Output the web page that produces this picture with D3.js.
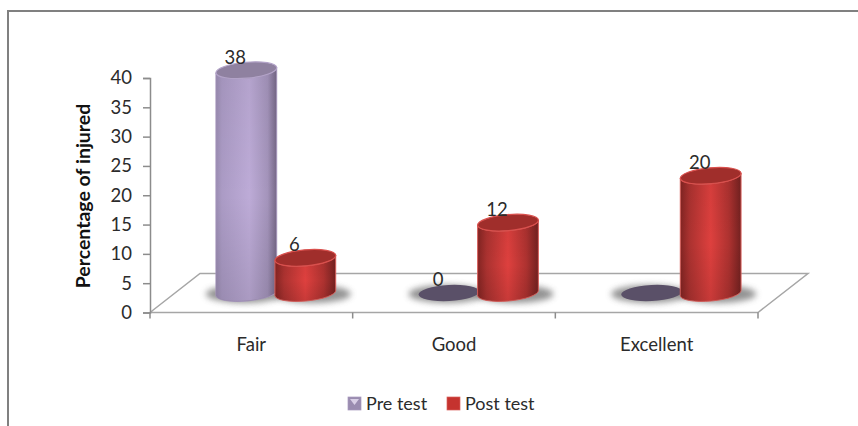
<!DOCTYPE html>
<html>
<head>
<meta charset="utf-8">
<script src="https://cdnjs.cloudflare.com/ajax/libs/d3/7.8.5/d3.min.js"></script>
<style>
html, body { margin: 0; padding: 0; background: #fff; overflow: hidden; }
text { font-family: Lato, "Open Sans", sans-serif; fill: #2b2b2b; }
</style>
</head>
<body>
<svg id="chart" width="858" height="426"></svg>
<script>
var categories = ["Fair", "Good", "Excellent"];
var seriesNames = ["Pre test", "Post test"];
var preTest = [38, 0, 0];
var postTest = [6, 12, 20];
var preLabels = ["38", "0", ""];
var postLabels = ["6", "12", "20"];
var yTicks = [0, 5, 10, 15, 20, 25, 30, 35, 40];

var svg = d3.select("#chart");
var defs = svg.append("defs");

var plotLeft = 150, plotRight = 758, plotBottom = 312.5, plotTop = 78;
var depthX = 50, depthY = 39;
var midX = depthX / 2, midY = 19.5; // bars stand halfway back on the floor
var rx = 30.5, ry = 8, tilt = -5;

var x0 = d3.scaleBand().domain(categories).range([plotLeft, plotRight]);
var x1 = d3.scalePoint().domain(seriesNames).range([-30, 29]);
var y = d3.scaleLinear().domain([0, 40]).range([plotBottom, plotTop]);

function gradient(id, stops) {
    var g = defs.append("linearGradient").attr("id", id);
    stops.forEach(function (s) {
        g.append("stop").attr("offset", s[0]).attr("stop-color", s[1]);
    });
}
gradient("preBody", [[0, "#9b8db2"], [0.1, "#ab9bc5"], [0.55, "#bdabd7"], [0.85, "#a494bb"], [1, "#766887"]]);
gradient("postBody", [[0, "#822422"], [0.15, "#ab3230"], [0.5, "#de403e"], [0.8, "#ae3230"], [1, "#732120"]]);

defs.append("filter").attr("id", "blur")
    .attr("x", "-30%").attr("y", "-80%").attr("width", "160%").attr("height", "260%")
    .append("feGaussianBlur").attr("stdDeviation", 3);

var shade = defs.append("linearGradient").attr("id", "shade")
    .attr("x1", 0).attr("y1", 0).attr("x2", 0).attr("y2", 1);
shade.append("stop").attr("offset", 0).attr("stop-color", "#000").attr("stop-opacity", 0.05);
shade.append("stop").attr("offset", 0.55).attr("stop-color", "#000").attr("stop-opacity", 0);
shade.append("stop").attr("offset", 1).attr("stop-color", "#000").attr("stop-opacity", 0.1);

// outer frame, cropped on the right and bottom
svg.append("path")
    .attr("d", "M8,426V11H858")
    .attr("fill", "none")
    .attr("stroke", "#808080")
    .attr("stroke-width", 2);

// floor
svg.append("path")
    .attr("d", "M" + plotLeft + "," + plotBottom + "L" + (plotLeft + depthX) + "," + (plotBottom - depthY) +
        "H" + (plotRight + depthX) + "L" + plotRight + "," + plotBottom + "Z")
    .attr("fill", "#fff")
    .attr("stroke", "#a6a6a6")
    .attr("stroke-width", 1.5);

// axes
var yAxis = svg.append("g")
    .attr("transform", "translate(" + plotLeft + ",0)")
    .call(d3.axisLeft(y).tickValues(yTicks).tickSize(7).tickPadding(11));
yAxis.selectAll("path, line").attr("stroke", "#8c8c8c").attr("stroke-width", 1.5);
yAxis.selectAll("text").style("font-size", "18.5px").attr("fill", "#2b2b2b");

var xAxis = svg.append("g")
    .attr("transform", "translate(0," + plotBottom + ")")
    .call(d3.axisBottom(x0).tickSize(0).tickPadding(25));
xAxis.select("path").remove();
xAxis.selectAll("text").style("font-size", "18.5px").attr("fill", "#2b2b2b");

svg.append("g").selectAll("line")
    .data(categories.concat(["end"]))
    .join("line")
    .attr("x1", function (d) { return d === "end" ? plotRight : x0(d); })
    .attr("x2", function (d) { return d === "end" ? plotRight : x0(d); })
    .attr("y1", plotBottom)
    .attr("y2", plotBottom + 6)
    .attr("stroke", "#8c8c8c")
    .attr("stroke-width", 1.5);

svg.append("text")
    .attr("transform", "translate(90,196) rotate(-90)")
    .attr("text-anchor", "middle")
    .style("font-size", "19.5px")
    .style("font-weight", "700")
    .style("fill", "#111")
    .text("Percentage of injured");

function centerX(cat, name) {
    return x0(cat) + x0.bandwidth() / 2 + midX + x1(name);
}

function bodyPath(cx, yTop, yBase) {
    var a = tilt * Math.PI / 180;
    var dx = rx * Math.cos(a), dy = rx * Math.sin(a);
    return "M" + (cx - dx) + "," + (yTop - dy) +
        "L" + (cx - dx) + "," + (yBase - dy) +
        "A" + rx + "," + ry + " " + tilt + " 0 0 " + (cx + dx) + "," + (yBase + dy) +
        "L" + (cx + dx) + "," + (yTop + dy) +
        "A" + rx + "," + ry + " " + tilt + " 0 1 " + (cx - dx) + "," + (yTop - dy) + "Z";
}

function rows(values, name, labels) {
    return values.map(function (v, i) {
        return { cat: categories[i], name: name, value: v, label: labels[i] };
    });
}
var all = rows(preTest, seriesNames[0], preLabels).concat(rows(postTest, seriesNames[1], postLabels));
var isPre = function (d) { return d.name === seriesNames[0]; };

// blurred shadows on the floor
svg.append("g").selectAll("ellipse")
    .data(all)
    .join("ellipse")
    .attr("cx", function (d) { return centerX(d.cat, d.name) + (isPre(d) ? -2 : 7); })
    .attr("cy", y(0) - midY + 1)
    .attr("rx", rx + 8)
    .attr("ry", ry + 1)
    .attr("fill", "#777")
    .attr("opacity", 0.8)
    .attr("filter", "url(#blur)");

// zero value discs
svg.append("g").selectAll("ellipse")
    .data(all.filter(function (d) { return d.value === 0; }))
    .join("ellipse")
    .attr("cx", function (d) { return centerX(d.cat, d.name); })
    .attr("cy", y(0) - midY)
    .attr("rx", rx)
    .attr("ry", ry)
    .attr("transform", function (d) {
        return "rotate(-3 " + centerX(d.cat, d.name) + " " + (y(0) - midY) + ")";
    })
    .attr("fill", "#5a5068");

// cylinders, pre test first so post test overlaps it
var bars = svg.append("g").selectAll("g")
    .data(all.filter(function (d) { return d.value > 0; }))
    .join("g");

bars.append("path")
    .attr("d", function (d) {
        return bodyPath(centerX(d.cat, d.name), y(d.value) - midY, y(0) - midY);
    })
    .attr("fill", function (d) { return isPre(d) ? "url(#preBody)" : "url(#postBody)"; })
    .attr("stroke", function (d) { return isPre(d) ? "#a797bd" : "#d9605c"; })
    .attr("stroke-width", 1);

bars.append("path")
    .attr("d", function (d) {
        return bodyPath(centerX(d.cat, d.name), y(d.value) - midY, y(0) - midY);
    })
    .attr("fill", "url(#shade)");

bars.append("ellipse")
    .attr("cx", function (d) { return centerX(d.cat, d.name); })
    .attr("cy", function (d) { return y(d.value) - midY; })
    .attr("rx", rx)
    .attr("ry", ry)
    .attr("transform", function (d) {
        return "rotate(" + tilt + " " + centerX(d.cat, d.name) + " " + (y(d.value) - midY) + ")";
    })
    .attr("fill", function (d) { return isPre(d) ? "#8f81a0" : "#a02e2b"; })
    .attr("stroke", function (d) { return isPre(d) ? "#b3a3c8" : "#d9504d"; })
    .attr("stroke-width", 1.2);

// value labels
svg.append("g").selectAll("text")
    .data(all.filter(function (d) { return d.label !== ""; }))
    .join("text")
    .attr("x", function (d) { return centerX(d.cat, d.name) - 11; })
    .attr("y", function (d) { return y(d.value) - midY - 13; })
    .attr("dy", "0.35em")
    .attr("text-anchor", "middle")
    .style("font-size", "18.5px")
    .text(function (d) { return d.label; });

// legend
var legend = svg.append("g").selectAll("g")
    .data(seriesNames)
    .join("g")
    .attr("transform", function (d, i) { return "translate(" + (348 + i * 99) + ",397)"; });

legend.append("rect")
    .attr("width", 13)
    .attr("height", 13)
    .attr("fill", function (d, i) { return i === 0 ? "#9a8cb0" : "#c5332f"; })
    .attr("stroke", function (d, i) { return i === 0 ? "#a797bd" : "#d9605c"; })
    .attr("stroke-width", 0.7);

legend.filter(function (d, i) { return i === 0; })
    .append("path")
    .attr("d", "M2,2H11L6.5,8Z")
    .attr("fill", "#d9cfe6");

legend.append("text")
    .attr("x", 18)
    .attr("y", 7)
    .attr("dy", "0.35em")
    .style("font-size", "18px")
    .text(function (d) { return d; });
</script>
</body>
</html>
